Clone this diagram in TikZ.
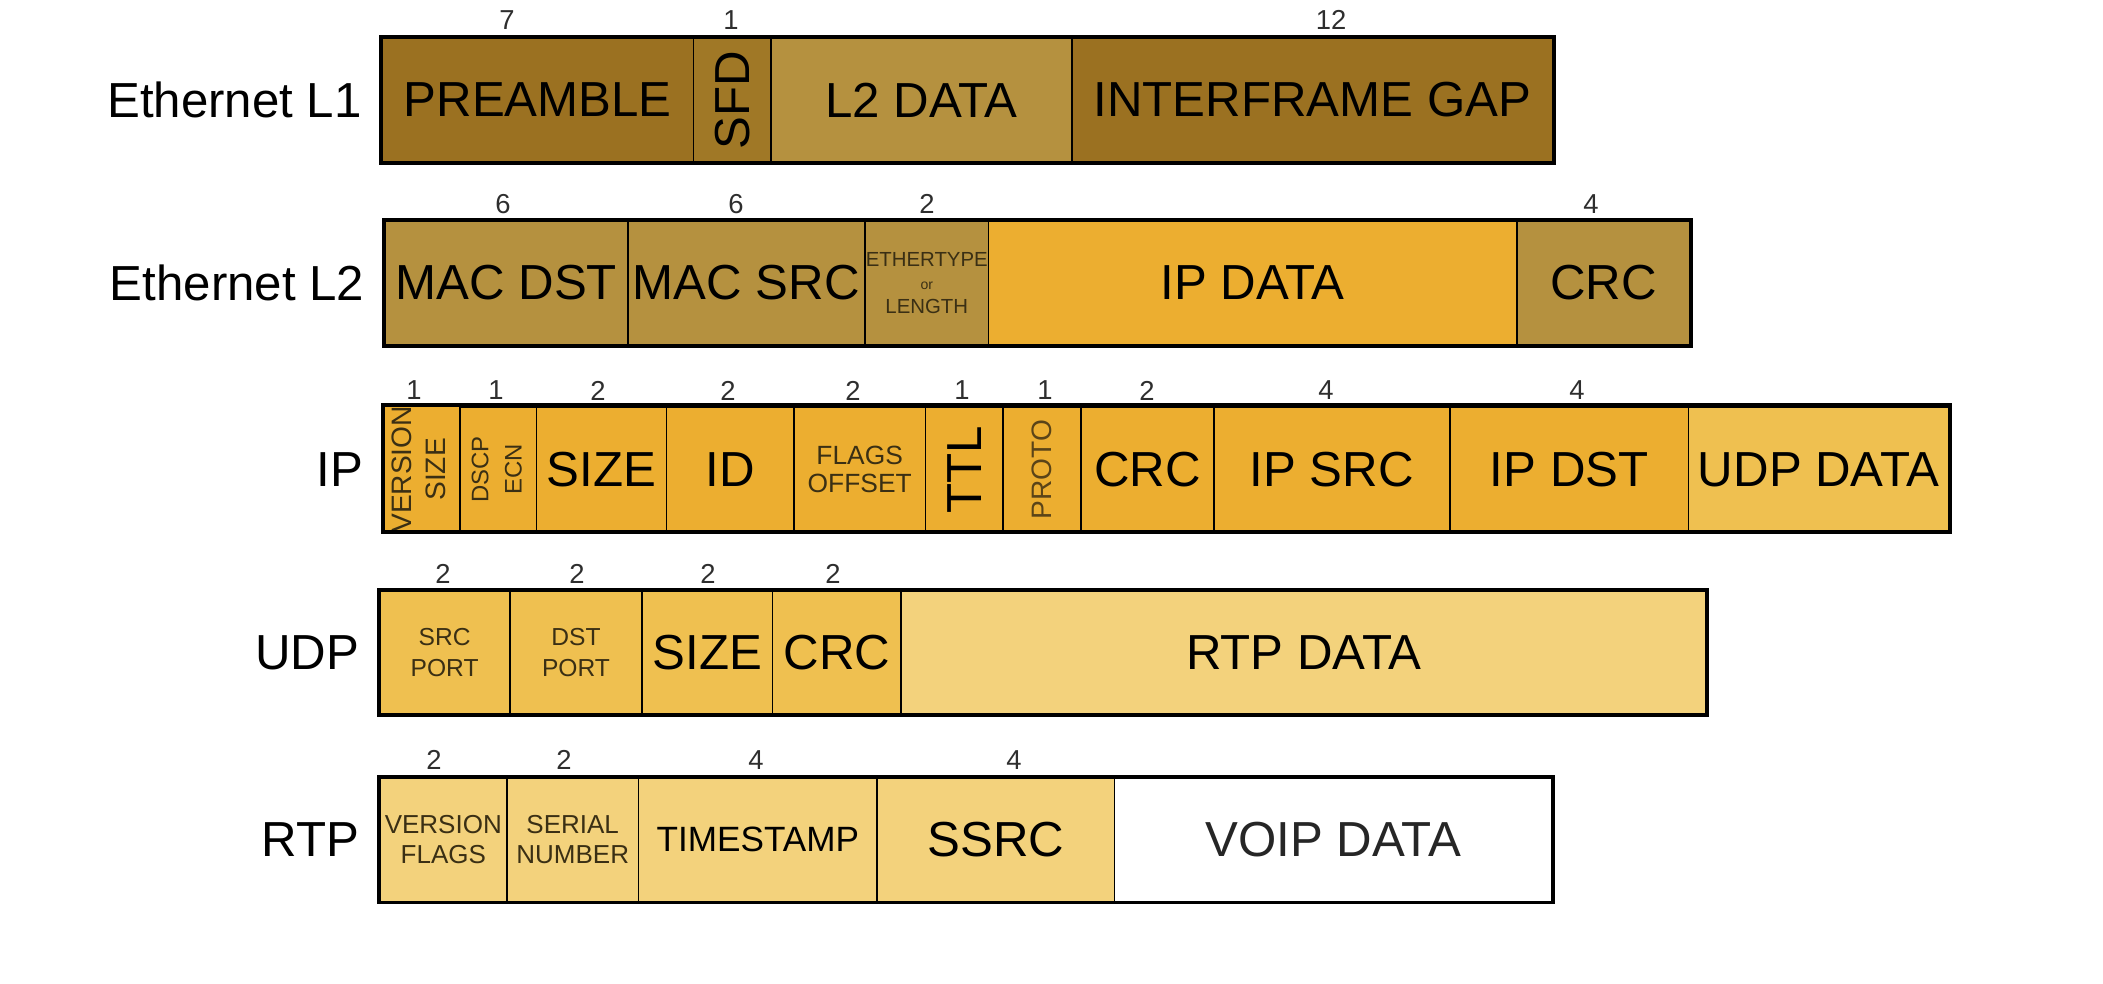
\documentclass[tikz,border=0pt]{standalone}
\usepackage{fontspec}
\setmainfont{Liberation Sans}
\usetikzlibrary{positioning}

\definecolor{ethdark}{HTML}{9B7121}
\definecolor{ethsfd}{HTML}{A07826}
\definecolor{ethtan}{HTML}{B5913F}
\definecolor{ipgold}{HTML}{ECAE30}
\definecolor{udpgold}{HTML}{EFC050}
\definecolor{rtpsand}{HTML}{F3D27C}
\definecolor{smalltxt}{HTML}{3A2F14}
\definecolor{prototxt}{HTML}{5A4418}
\definecolor{numtxt}{HTML}{2E2E2E}

\begin{document}
\begin{tikzpicture}[
        field/.style={draw=black, line width=0.5pt, inner sep=0pt, minimum height=1.24cm, align=center, font=\fontsize{14}{16}\selectfont},
        smallprint/.style={text=smalltxt, font=\fontsize{7.4}{8.6}\selectfont},
        rowframe/.style={draw=black, line width=1.1pt},
        bytes/.style={inner sep=0pt, text=numtxt, font=\fontsize{7.8}{9}\selectfont},
        rowname/.style={inner sep=0pt, font=\fontsize{14}{16}\selectfont}
    ]
        \useasboundingbox (0,0) rectangle (21.03,-9.83);

        % Ethernet L1
        \node[field, fill=ethdark, minimum width=3.112cm] (pre) at (5.378,-1.00) {PREAMBLE};
        \node[field, fill=ethsfd, minimum width=0.778cm] (sfd) at (7.323,-1.00) {\rotatebox{90}{SFD}};
        \node[field, fill=ethtan, minimum width=3.004cm] (ltwo) at (9.214,-1.00) {L2 DATA};
        \node[field, fill=ethdark, minimum width=4.815cm] (ifg) at (13.124,-1.00) {INTERFRAME GAP};
        \draw[rowframe] (pre.north west) rectangle (ifg.south east);
        \node[rowname, left=0.19cm of pre] (lblone) {Ethernet L1};
        \node[bytes] (npre) at (5.07,-0.20) {7};
        \node[bytes] (nsfd) at (7.31,-0.20) {1};
        \node[bytes] (nifg) at (13.31,-0.20) {12};

        % Ethernet L2
        \node[field, fill=ethtan, minimum width=2.428cm] (macdst) at (5.063,-2.83) {MAC DST};
        \node[field, fill=ethtan, minimum width=2.374cm] (macsrc) at (7.464,-2.83) {MAC SRC};
        \node[field, fill=ethtan, minimum width=1.234cm, text=smalltxt, font=\fontsize{5.8}{6.8}\selectfont] (etype) at (9.268,-2.83) {ETHERTYPE\\{\fontsize{4}{5}\selectfont or}\\LENGTH};
        \node[field, fill=ipgold, minimum width=5.284cm] (ipdata) at (12.527,-2.83) {IP DATA};
        \node[field, fill=ethtan, minimum width=1.730cm] (ethcrc) at (16.034,-2.83) {CRC};
        \draw[rowframe] (macdst.north west) rectangle (ethcrc.south east);
        \node[rowname, left=0.19cm of macdst] (lbltwo) {Ethernet L2};
        \node[bytes] (nmacdst) at (5.03,-2.04) {6};
        \node[bytes] (nmacsrc) at (7.36,-2.04) {6};
        \node[bytes] (netype) at (9.27,-2.04) {2};
        \node[bytes] (nethcrc) at (15.91,-2.04) {4};

        % IP
        \node[field, fill=ipgold, minimum width=0.764cm, smallprint, font=\fontsize{8}{9.5}\selectfont] (verssize) at (4.218,-4.694) {\rotatebox{90}{\begin{tabular}{@{}c@{}}VERSION\\SIZE\end{tabular}}};
        \node[field, fill=ipgold, minimum width=0.765cm, smallprint, font=\fontsize{6.8}{9.5}\selectfont] (dscp) at (4.983,-4.694) {\rotatebox{90}{\begin{tabular}{@{}c@{}}DSCP\\ECN\end{tabular}}};
        \node[field, fill=ipgold, minimum width=1.301cm] (ipsize) at (6.016,-4.694) {SIZE};
        \node[field, fill=ipgold, minimum width=1.274cm] (ipid) at (7.303,-4.694) {ID};
        \node[field, fill=ipgold, minimum width=1.314cm, smallprint, font=\fontsize{7.5}{8.2}\selectfont] (flags) at (8.597,-4.694) {FLAGS\\OFFSET};
        \node[field, fill=ipgold, minimum width=0.778cm] (ttl) at (9.643,-4.694) {\rotatebox{90}{TTL}};
        \node[field, fill=ipgold, minimum width=0.778cm, text=prototxt, font=\fontsize{8}{9}\selectfont] (proto) at (10.421,-4.694) {\rotatebox{90}{PROTO}};
        \node[field, fill=ipgold, minimum width=1.328cm] (ipcrc) at (11.474,-4.694) {CRC};
        \node[field, fill=ipgold, minimum width=2.360cm] (ipsrc) at (13.318,-4.694) {IP SRC};
        \node[field, fill=ipgold, minimum width=2.388cm] (ipdst) at (15.692,-4.694) {IP DST};
        \node[field, fill=udpgold, minimum width=2.602cm] (udpdata) at (18.187,-4.694) {UDP DATA};
        \draw[rowframe] (verssize.north west) rectangle (udpdata.south east);
        \node[rowname, left=0.19cm of verssize] (lblip) {IP};
        \node[bytes] (nverssize) at (4.14,-3.905) {1};
        \node[bytes] (ndscp) at (4.96,-3.905) {1};
        \node[bytes] (nipsize) at (5.98,-3.905) {2};
        \node[bytes] (nipid) at (7.28,-3.905) {2};
        \node[bytes] (nflags) at (8.53,-3.905) {2};
        \node[bytes] (nttl) at (9.62,-3.905) {1};
        \node[bytes] (nproto) at (10.45,-3.905) {1};
        \node[bytes] (nipcrc) at (11.47,-3.905) {2};
        \node[bytes] (nipsrc) at (13.26,-3.905) {4};
        \node[bytes] (nipdst) at (15.77,-3.905) {4};

        % UDP
        \node[field, fill=udpgold, minimum width=1.301cm, smallprint, font=\fontsize{7}{8.8}\selectfont] (srcport) at (4.446,-6.525) {SRC\\PORT};
        \node[field, fill=udpgold, minimum width=1.327cm, smallprint, font=\fontsize{7}{8.8}\selectfont] (dstport) at (5.760,-6.525) {DST\\PORT};
        \node[field, fill=udpgold, minimum width=1.301cm] (udpsize) at (7.075,-6.525) {SIZE};
        \node[field, fill=udpgold, minimum width=1.288cm] (udpcrc) at (8.369,-6.525) {CRC};
        \node[field, fill=rtpsand, minimum width=8.047cm] (rtpdata) at (13.037,-6.525) {RTP DATA};
        \draw[rowframe] (srcport.north west) rectangle (rtpdata.south east);
        \node[rowname, left=0.19cm of srcport] (lbludp) {UDP};
        \node[bytes] (nsrcport) at (4.43,-5.74) {2};
        \node[bytes] (ndstport) at (5.77,-5.74) {2};
        \node[bytes] (nudpsize) at (7.08,-5.74) {2};
        \node[bytes] (nudpcrc) at (8.33,-5.74) {2};

        % RTP
        \node[field, fill=rtpsand, minimum width=1.274cm, smallprint] (vflags) at (4.433,-8.396) {VERSION\\FLAGS};
        \node[field, fill=rtpsand, minimum width=1.314cm, smallprint] (serial) at (5.727,-8.396) {SERIAL\\NUMBER};
        \node[field, fill=rtpsand, minimum width=2.387cm, font=\fontsize{10}{12}\selectfont] (tstamp) at (7.578,-8.396) {TIMESTAMP};
        \node[field, fill=rtpsand, minimum width=2.374cm] (ssrc) at (9.958,-8.396) {SSRC};
        \node[field, fill=white, minimum width=4.373cm, text=black!85] (voip) at (13.332,-8.396) {VOIP DATA};
        \draw[rowframe] (vflags.north west) rectangle (voip.south east);
        \node[rowname, left=0.19cm of vflags] (lblrtp) {RTP};
        \node[bytes] (nvflags) at (4.34,-7.60) {2};
        \node[bytes] (nserial) at (5.64,-7.60) {2};
        \node[bytes] (ntstamp) at (7.56,-7.60) {4};
        \node[bytes] (nssrc) at (10.14,-7.60) {4};
    \end{tikzpicture}
\end{document}
